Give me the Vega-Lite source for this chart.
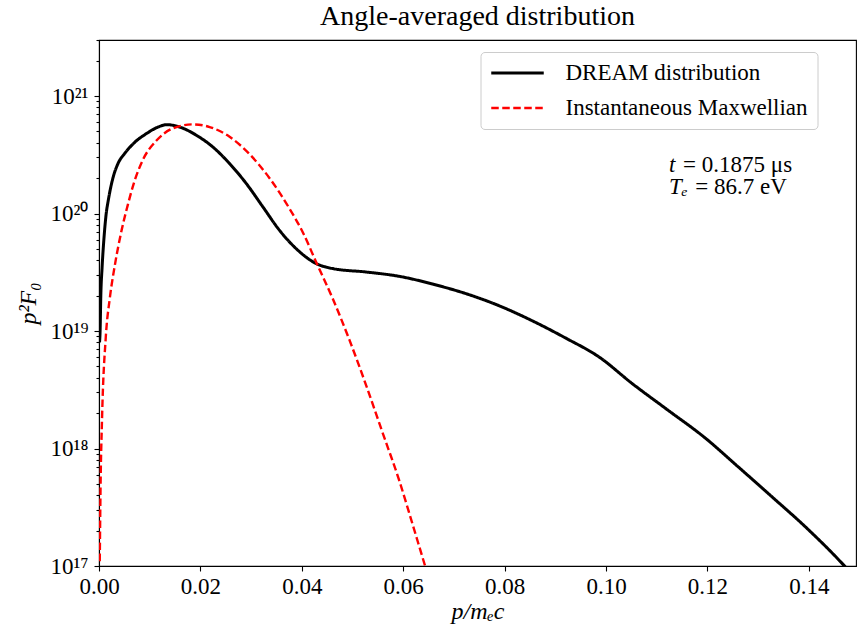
{
  "$schema": "https://vega.github.io/schema/vega-lite/v6.json",
  "width": 757,
  "height": 526,
  "autosize": {"type": "none"},
  "padding": {"left": 99, "top": 40, "right": 2, "bottom": 63},
  "background": "white",
  "title": {
    "text": "Angle-averaged distribution",
    "font": "Liberation Serif",
    "fontSize": 28,
    "fontWeight": "normal",
    "color": "black",
    "baseline": "alphabetic",
    "frame": "group",
    "offset": 11,
    "dy": 35,
    "anchor": "middle"
  },
  "config": {
    "view": {"stroke": "black", "strokeWidth": 1.1},
    "axis": {
      "domainColor": "black",
      "domainWidth": 1.1,
      "tickColor": "black",
      "tickWidth": 1.1,
      "grid": false,
      "labelFont": "Liberation Serif",
      "labelFontSize": 23,
      "labelColor": "black",
      "titleFont": "Liberation Serif",
      "titleFontSize": 24,
      "titleFontWeight": "normal",
      "titleFontStyle": "italic",
      "titleColor": "black"
    }
  },
  "datasets": {
    "curves": [
      {"series": "DREAM distribution", "p": 0.0001, "f": 8.0e18},
      {"series": "DREAM distribution", "p": 0.00022, "f": 1.01e19},
      {"series": "DREAM distribution", "p": 0.00035, "f": 1.94e19},
      {"series": "DREAM distribution", "p": 0.00061, "f": 3.48e19},
      {"series": "DREAM distribution", "p": 0.00095, "f": 5.92e19},
      {"series": "DREAM distribution", "p": 0.00134, "f": 9.29e19},
      {"series": "DREAM distribution", "p": 0.00193, "f": 1.37e20},
      {"series": "DREAM distribution", "p": 0.00278, "f": 2.03e20},
      {"series": "DREAM distribution", "p": 0.00376, "f": 2.67e20},
      {"series": "DREAM distribution", "p": 0.00508, "f": 3.25e20},
      {"series": "DREAM distribution", "p": 0.00705, "f": 4.04e20},
      {"series": "DREAM distribution", "p": 0.00935, "f": 4.79e20},
      {"series": "DREAM distribution", "p": 0.01197, "f": 5.52e20},
      {"series": "DREAM distribution", "p": 0.01329, "f": 5.71e20},
      {"series": "DREAM distribution", "p": 0.01591, "f": 5.45e20},
      {"series": "DREAM distribution", "p": 0.0192, "f": 4.64e20},
      {"series": "DREAM distribution", "p": 0.02247, "f": 3.68e20},
      {"series": "DREAM distribution", "p": 0.02576, "f": 2.66e20},
      {"series": "DREAM distribution", "p": 0.02905, "f": 1.80e20},
      {"series": "DREAM distribution", "p": 0.03232, "f": 1.14e20},
      {"series": "DREAM distribution", "p": 0.03561, "f": 7.19e19},
      {"series": "DREAM distribution", "p": 0.0389, "f": 5.02e19},
      {"series": "DREAM distribution", "p": 0.04284, "f": 3.75e19},
      {"series": "DREAM distribution", "p": 0.04611, "f": 3.40e19},
      {"series": "DREAM distribution", "p": 0.05268, "f": 3.18e19},
      {"series": "DREAM distribution", "p": 0.05924, "f": 2.92e19},
      {"series": "DREAM distribution", "p": 0.0658, "f": 2.51e19},
      {"series": "DREAM distribution", "p": 0.07238, "f": 2.08e19},
      {"series": "DREAM distribution", "p": 0.07894, "f": 1.64e19},
      {"series": "DREAM distribution", "p": 0.08549, "f": 1.22e19},
      {"series": "DREAM distribution", "p": 0.09207, "f": 8.7e18},
      {"series": "DREAM distribution", "p": 0.09863, "f": 6.01e18},
      {"series": "DREAM distribution", "p": 0.1052, "f": 3.56e18},
      {"series": "DREAM distribution", "p": 0.11177, "f": 2.19e18},
      {"series": "DREAM distribution", "p": 0.11965, "f": 1.22e18},
      {"series": "DREAM distribution", "p": 0.1262, "f": 6.9e17},
      {"series": "DREAM distribution", "p": 0.13276, "f": 3.87e17},
      {"series": "DREAM distribution", "p": 0.13934, "f": 2.15e17},
      {"series": "DREAM distribution", "p": 0.14722, "f": 9.8e16},
      {"series": "DREAM distribution", "p": 0.1495, "f": 7.6e16},
      {"series": "Instantaneous Maxwellian", "p": 0.00015, "f": 1.1e17},
      {"series": "Instantaneous Maxwellian", "p": 0.0003, "f": 4.5e17},
      {"series": "Instantaneous Maxwellian", "p": 0.0006, "f": 1.8e18},
      {"series": "Instantaneous Maxwellian", "p": 0.00134, "f": 8.9e18},
      {"series": "Instantaneous Maxwellian", "p": 0.00213, "f": 1.9e19},
      {"series": "Instantaneous Maxwellian", "p": 0.00311, "f": 3.6e19},
      {"series": "Instantaneous Maxwellian", "p": 0.00449, "f": 7.3e19},
      {"series": "Instantaneous Maxwellian", "p": 0.00567, "f": 1.18e20},
      {"series": "Instantaneous Maxwellian", "p": 0.00685, "f": 1.8e20},
      {"series": "Instantaneous Maxwellian", "p": 0.00863, "f": 2.85e20},
      {"series": "Instantaneous Maxwellian", "p": 0.01138, "f": 4.2e20},
      {"series": "Instantaneous Maxwellian", "p": 0.01453, "f": 5.3e20},
      {"series": "Instantaneous Maxwellian", "p": 0.01847, "f": 5.74e20},
      {"series": "Instantaneous Maxwellian", "p": 0.02182, "f": 5.45e20},
      {"series": "Instantaneous Maxwellian", "p": 0.02576, "f": 4.5e20},
      {"series": "Instantaneous Maxwellian", "p": 0.0297, "f": 3.2e20},
      {"series": "Instantaneous Maxwellian", "p": 0.03364, "f": 2.0e20},
      {"series": "Instantaneous Maxwellian", "p": 0.03758, "f": 1.1e20},
      {"series": "Instantaneous Maxwellian", "p": 0.04021, "f": 6.9e19},
      {"series": "Instantaneous Maxwellian", "p": 0.04284, "f": 3.85e19},
      {"series": "Instantaneous Maxwellian", "p": 0.04611, "f": 1.88e19},
      {"series": "Instantaneous Maxwellian", "p": 0.04939, "f": 8.4e18},
      {"series": "Instantaneous Maxwellian", "p": 0.05274, "f": 3.4e18},
      {"series": "Instantaneous Maxwellian", "p": 0.05589, "f": 1.38e18},
      {"series": "Instantaneous Maxwellian", "p": 0.05924, "f": 5.3e17},
      {"series": "Instantaneous Maxwellian", "p": 0.0618, "f": 2.3e17},
      {"series": "Instantaneous Maxwellian", "p": 0.06417, "f": 1.05e17},
      {"series": "Instantaneous Maxwellian", "p": 0.0655, "f": 6.8e16}
    ],
    "symbols": [
      {"p": 0.1124, "f": 2.25e20, "s": "t"},
      {"p": 0.1124, "f": 1.476e20, "s": "Tₑ"}
    ],
    "values": [
      {"p": 0.1152, "f": 2.25e20, "s": "= 0.1875 μs"},
      {"p": 0.1176, "f": 1.476e20, "s": "= 86.7 eV"}
    ]
  },
  "layer": [
    {
      "data": {"name": "curves"},
      "mark": {"type": "line", "clip": true, "interpolate": "monotone"},
      "encoding": {
        "x": {
          "field": "p",
          "type": "quantitative",
          "scale": {"domain": [0, 0.1493], "nice": false, "zero": false},
          "axis": {
            "title": "p/mₑc",
            "values": [0, 0.02, 0.04, 0.06, 0.08, 0.1, 0.12, 0.14],
            "format": ".2f",
            "tickSize": 5,
            "labelPadding": 4,
            "titlePadding": 1,
            "labelFlush": false
          }
        },
        "y": {
          "field": "f",
          "type": "quantitative",
          "scale": {"type": "log", "domain": [1e17, 3e21], "nice": false},
          "axis": {
            "title": "p²F₀",
            "values": [1e17, 2e17, 3e17, 4e17, 5e17, 6e17, 7e17, 8e17, 9e17,
                       1e18, 2e18, 3e18, 4e18, 5e18, 6e18, 7e18, 8e18, 9e18,
                       1e19, 2e19, 3e19, 4e19, 5e19, 6e19, 7e19, 8e19, 9e19,
                       1e20, 2e20, 3e20, 4e20, 5e20, 6e20, 7e20, 8e20, 9e20,
                       1e21, 2e21, 3e21],
            "labelExpr": "abs(log(datum.value)/LN10 - round(log(datum.value)/LN10)) < 1e-6 ? '10' + replace(replace(replace(replace(replace(replace(format(round(log(datum.value)/LN10), 'd'), '1', '¹'), '2', '²'), '0', '⁰'), '7', '⁷'), '8', '⁸'), '9', '⁹') : ''",
            "tickSize": {"condition": {"test": "abs(log(datum.value)/LN10 - round(log(datum.value)/LN10)) < 1e-6", "value": 5}, "value": 3},
            "labelOverlap": false,
            "labelBound": false,
            "labelFlush": false,
            "labelPadding": 6,
            "titlePadding": 10
          }
        },
        "color": {
          "field": "series",
          "type": "nominal",
          "scale": {"domain": ["DREAM distribution", "Instantaneous Maxwellian"], "range": ["#000000", "#ff0000"]},
          "legend": {
            "title": null,
            "orient": "none",
            "legendX": 381.5,
            "legendY": 12,
            "symbolType": "M-2.5,0H2.5",
            "symbolSize": 441,
            "symbolOffset": 16,
            "labelFont": "Liberation Serif",
            "labelFontSize": 23,
            "labelColor": "black",
            "labelOffset": 36,
            "padding": 9,
            "rowPadding": 11,
            "strokeColor": "#cccccc",
            "fillColor": "white",
            "cornerRadius": 4,
            "labelLimit": 400
          }
        },
        "strokeDash": {
          "field": "series",
          "type": "nominal",
          "scale": {"domain": ["DREAM distribution", "Instantaneous Maxwellian"], "range": [[1, 0], [7.5, 3.5]]}
        },
        "strokeWidth": {
          "field": "series",
          "type": "nominal",
          "scale": {"domain": ["DREAM distribution", "Instantaneous Maxwellian"], "range": [3, 2.4]}
        }
      }
    },
    {
      "data": {"name": "symbols"},
      "mark": {"type": "text", "align": "left", "baseline": "alphabetic", "font": "Liberation Serif", "fontSize": 23, "fontStyle": "italic", "color": "black"},
      "encoding": {
        "x": {"field": "p", "type": "quantitative"},
        "y": {"field": "f", "type": "quantitative"},
        "text": {"field": "s"}
      }
    },
    {
      "data": {"name": "values"},
      "mark": {"type": "text", "align": "left", "baseline": "alphabetic", "font": "Liberation Serif", "fontSize": 23, "color": "black"},
      "encoding": {
        "x": {"field": "p", "type": "quantitative"},
        "y": {"field": "f", "type": "quantitative"},
        "text": {"field": "s"}
      }
    }
  ]
}
